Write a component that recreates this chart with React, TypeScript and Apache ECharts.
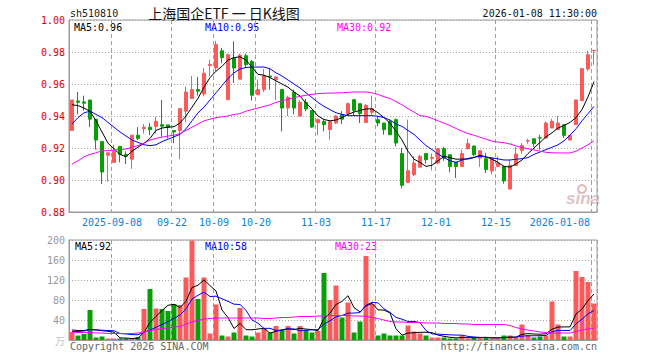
import React, { useEffect, useRef } from 'react';
import * as echarts from 'echarts';

const dates = [
  '2025-08-28','2025-08-29','2025-09-01','2025-09-02','2025-09-03','2025-09-04','2025-09-05','2025-09-08','2025-09-09','2025-09-10',
  '2025-09-11','2025-09-12','2025-09-15','2025-09-16','2025-09-17','2025-09-18','2025-09-19','2025-09-22','2025-09-23','2025-09-24',
  '2025-09-25','2025-09-26','2025-09-29','2025-09-30','2025-10-09','2025-10-10','2025-10-13','2025-10-14','2025-10-15','2025-10-16',
  '2025-10-17','2025-10-20','2025-10-21','2025-10-22','2025-10-23','2025-10-24','2025-10-27','2025-10-28','2025-10-29','2025-10-30',
  '2025-10-31','2025-11-03','2025-11-04','2025-11-05','2025-11-06','2025-11-07','2025-11-10','2025-11-11','2025-11-12','2025-11-13',
  '2025-11-14','2025-11-17','2025-11-18','2025-11-19','2025-11-20','2025-11-21','2025-11-24','2025-11-25','2025-11-26','2025-11-27',
  '2025-11-28','2025-12-01','2025-12-02','2025-12-03','2025-12-04','2025-12-05','2025-12-08','2025-12-09','2025-12-10','2025-12-11',
  '2025-12-12','2025-12-15','2025-12-16','2025-12-17','2025-12-18','2025-12-19','2025-12-22','2025-12-23','2025-12-24','2025-12-25',
  '2025-12-26','2025-12-29','2025-12-30','2025-12-31','2026-01-05','2026-01-06','2026-01-07','2026-01-08'
];

const opens = [
  0.931,0.9494,0.9488,0.950,0.938,0.924,0.9155,0.911,0.921,0.916,
  0.913,0.928,0.932,0.933,0.9335,0.9346,0.9344,0.931,0.931,0.943,
  0.951,0.9565,0.9538,0.9715,0.970,0.9808,0.9502,0.9762,0.963,0.9777,
  0.974,0.9533,0.9565,0.965,0.9627,0.9565,0.945,0.9548,0.940,0.9485,
  0.9435,0.9358,0.9365,0.9315,0.9356,0.9408,0.9415,0.9502,0.9477,0.936,
  0.9423,0.9377,0.9356,0.9367,0.9377,0.9165,0.8985,0.9033,0.908,0.9165,
  0.9135,0.9106,0.9196,0.9158,0.9112,0.9085,0.9196,0.9212,0.9137,0.9133,
  0.9056,0.9085,0.9085,0.8944,0.909,0.9185,0.9243,0.9258,0.9264,0.9262,
  0.9325,0.9315,0.9346,0.925,0.9346,0.9496,0.9694,0.9808
];
const closes = [
  0.950,0.9486,0.948,0.938,0.925,0.905,0.917,0.918,0.916,0.915,
  0.928,0.926,0.933,0.9315,0.9367,0.9336,0.933,0.930,0.9446,0.955,
  0.9565,0.9555,0.9667,0.9723,0.9846,0.9765,0.9783,0.970,0.978,0.972,
  0.953,0.9565,0.9652,0.9644,0.9644,0.945,0.9517,0.945,0.9485,0.9444,
  0.9331,0.9377,0.9346,0.9365,0.940,0.938,0.9477,0.9435,0.9415,0.9467,
  0.9446,0.9356,0.9315,0.9283,0.9231,0.8967,0.9058,0.9106,0.9148,0.9127,
  0.914,0.9196,0.9137,0.9085,0.9085,0.9165,0.9227,0.9158,0.9183,0.9065,
  0.9135,0.9106,0.8994,0.9092,0.9162,0.9215,0.9246,0.9227,0.9262,0.9356,
  0.9367,0.9356,0.9279,0.9279,0.950,0.9696,0.9783,0.981
];
const lows = [
  0.931,0.941,0.9434,0.933,0.919,0.8975,0.899,0.911,0.911,0.910,
  0.907,0.925,0.929,0.928,0.929,0.927,0.926,0.923,0.913,0.936,
  0.9506,0.9527,0.9523,0.9648,0.968,0.973,0.9502,0.9606,0.963,0.970,
  0.9496,0.9533,0.955,0.9565,0.950,0.9304,0.940,0.941,0.9396,0.943,
  0.9325,0.928,0.9304,0.9252,0.935,0.935,0.9408,0.940,0.9356,0.9356,
  0.9408,0.9335,0.9283,0.9283,0.921,0.8948,0.898,0.9025,0.908,0.9102,
  0.906,0.9098,0.912,0.9048,0.9012,0.9085,0.919,0.915,0.9083,0.9044,
  0.9035,0.908,0.8977,0.894,0.909,0.9165,0.9227,0.9206,0.919,0.926,
  0.9325,0.9315,0.9262,0.9246,0.9346,0.9496,0.968,0.972
];
const highs = [
  0.950,0.955,0.9527,0.950,0.938,0.924,0.917,0.922,0.921,0.918,
  0.928,0.933,0.935,0.9356,0.9396,0.950,0.9344,0.931,0.9446,0.9585,
  0.965,0.9645,0.970,0.975,0.987,0.9825,0.979,0.9867,0.979,0.979,
  0.975,0.9627,0.9694,0.970,0.9648,0.9565,0.9527,0.9565,0.950,0.9506,
  0.9435,0.9385,0.938,0.9365,0.9408,0.943,0.9485,0.9502,0.9477,0.9475,
  0.9527,0.940,0.9356,0.9377,0.9385,0.920,0.9377,0.9148,0.9158,0.9165,
  0.9165,0.920,0.9206,0.916,0.9112,0.919,0.9258,0.9216,0.9185,0.917,
  0.914,0.9148,0.9085,0.9127,0.9206,0.9231,0.9258,0.9258,0.9283,0.9367,
  0.9383,0.940,0.9346,0.928,0.9502,0.970,0.9808,0.981
];

const ma5 = [
  0.947,0.9465,0.945,0.943,0.937,0.930,0.923,0.9195,0.916,0.9145,
  0.918,0.9205,0.923,0.926,0.931,0.9325,0.933,0.9333,0.9356,0.940,
  0.9455,0.951,0.958,0.964,0.968,0.971,0.975,0.9765,0.977,0.975,
  0.9705,0.966,0.9655,0.964,0.962,0.960,0.958,0.955,0.9525,0.948,
  0.9445,0.940,0.9378,0.937,0.9375,0.939,0.941,0.9425,0.9435,0.9444,
  0.9445,0.942,0.939,0.9355,0.9305,0.925,0.918,0.913,0.911,0.9085,
  0.9092,0.912,0.9148,0.914,0.913,0.9131,0.9131,0.914,0.9155,0.9145,
  0.913,0.911,0.9085,0.9081,0.910,0.9125,0.9165,0.920,0.9235,0.927,
  0.9295,0.9325,0.934,0.936,0.939,0.944,0.952,0.9614
];
const ma10 = [
  0.935,0.939,0.942,0.943,0.941,0.939,0.936,0.933,0.930,0.9275,
  0.925,0.9235,0.922,0.9215,0.922,0.924,0.9255,0.927,0.9285,0.932,
  0.937,0.942,0.9455,0.950,0.9545,0.959,0.9635,0.967,0.9694,0.9703,
  0.9706,0.9706,0.9706,0.9695,0.967,0.965,0.9625,0.960,0.9575,0.9545,
  0.9515,0.9485,0.946,0.944,0.942,0.941,0.9402,0.9402,0.9402,0.9402,
  0.9402,0.9398,0.939,0.9375,0.935,0.9335,0.931,0.9285,0.925,0.9215,
  0.919,0.9163,0.914,0.912,0.911,0.9125,0.9135,0.9142,0.9148,0.9144,
  0.9138,0.9132,0.9125,0.9125,0.913,0.9133,0.914,0.916,0.9175,0.919,
  0.9205,0.922,0.9245,0.928,0.932,0.937,0.9415,0.946
];
const ma30 = [
  0.910,0.912,0.9145,0.916,0.917,0.9182,0.9184,0.9187,0.919,0.9194,
  0.9205,0.9215,0.923,0.925,0.926,0.9268,0.9275,0.928,0.929,0.931,
  0.933,0.935,0.937,0.938,0.939,0.9395,0.940,0.941,0.9415,0.943,
  0.944,0.945,0.946,0.947,0.9485,0.9495,0.9505,0.9515,0.9523,0.953,
  0.9535,0.954,0.9542,0.9543,0.9544,0.9545,0.9548,0.955,0.955,0.955,
  0.9545,0.9535,0.952,0.951,0.949,0.947,0.9445,0.9425,0.9402,0.9398,
  0.9385,0.937,0.9355,0.934,0.9322,0.9305,0.929,0.928,0.9267,0.9255,
  0.9243,0.9237,0.9233,0.9225,0.9213,0.9203,0.9195,0.9188,0.918,0.9173,
  0.917,0.9169,0.9169,0.9169,0.918,0.920,0.922,0.9245
];

const volumes = [
  16,9,12,60,5,7,3,3,3,3,
  3,6,62,102,63,62,58,72,70,125,
  199,82,125,13,71,9,7,15,64,9,
  7,15,22,15,28,20,28,13,28,20,
  15,18,134,80,109,45,75,15,37,168,
  72,9,13,9,9,9,29,17,13,9,
  5,5,5,3,3,9,3,5,5,5,
  3,3,9,9,5,31,10,5,7,9,
  77,31,7,7,138,126,116,73
];
const volMa5 = [
  20,19,19,21,20.4,18.6,17.4,15.6,4.2,3.8,
  3,3.6,15.4,35.2,47.2,59,69.4,71.4,65,77.4,
  104.8,109.6,120.2,108.8,98,60,45,23,33.2,20.8,
  20.4,22,23.4,13.6,17.4,20,22.6,20.8,23.4,21.8,
  20.8,18.8,43,53.4,71.2,77.2,88.6,64.8,56.2,68,
  73.4,60.2,59.8,54.2,22.4,9.8,13.8,14.6,15.4,15.4,
  14.6,9.8,7.4,5.4,4.2,5,4.6,4.6,5,5.4,
  4.2,4.2,5,5.8,5.8,11.4,12.8,12,11.6,12.4,
  21.6,25.8,26.2,26.2,52,61.8,78.8,92
];
const volMa10 = [
  17,17,18,21,20,19.5,19,18.5,13,12.1,
  10.8,10.5,15.5,19.7,25.5,31,36.5,43.4,50.1,62.3,
  81.9,89.5,95.8,86.9,87.7,82.4,77.3,71.6,71,59.4,
  40.2,33.5,23.2,23.4,19.1,20.2,22.3,22.1,18.5,19.6,
  20.4,20.7,31.9,38.4,46.5,49,53.7,53.9,54.8,69.6,
  75.3,74.4,62.3,55.2,45.2,41.6,37,37.2,34.8,18.9,
  12.2,11.8,11,10.4,9.8,9.8,7.2,6,5.2,4.8,
  4.6,4.4,4.8,5.4,5.6,7.8,8.5,8.5,8.7,9.1,
  16.5,19.3,19.1,18.9,32.2,41.7,52.3,59.1
];
const volMa30 = [
  16,15,15,15,14,14,13,13,13,13,
  13,14,16,19,21,23,24,26,27,32,
  36,39,42,43,44,44,44,44,44,44,
  44,44,43,43,44,45,45,46,47,47,
  47,48,48,49,49,49,49,48,48,47,
  45,43,40,37,36,36,35,35,35,34,
  34,34,33,33,33,32,32,31,31,31,
  31,31,31,29,25,22,20,18,16,15,
  14,14,14,14,17,20,22,23
];

const labelIndices = [7, 17, 24, 31, 41, 51, 61, 71, 87];
const fullLabelIndices = [7, 87];

const RED = '#fa5a5a';
const GREEN = '#06a006';
const MONO = '"DejaVu Sans Mono", monospace';

export default function App() {
  const ref = useRef<HTMLDivElement>(null);
  useEffect(() => {
    if (!ref.current) return;
    const chart = echarts.init(ref.current, null, { renderer: 'svg', width: 660, height: 360 });
    const showIdx = (i: number) => labelIndices.indexOf(i) >= 0;
    const candleData = dates.map((_, i) => [opens[i], closes[i], lows[i], highs[i]]);
    const volData = volumes.map((v, i) => ({
      value: v,
      itemStyle: { color: closes[i] >= opens[i] ? RED : GREEN },
    }));
    const splitX = {
      show: true,
      interval: (i: number) => showIdx(i),
      lineStyle: { color: '#a0a0a0', type: [4, 3], width: 1 },
    };
    const splitY = { show: true, lineStyle: { color: '#a8a8a8', type: [1, 2], width: 1 } };
    const txt = (x: number, y: number, text: string, fill: string, extra: any = {}) => ({
      type: 'text',
      x,
      y,
      silent: true,
      style: {
        text,
        fill,
        fontFamily: MONO,
        fontSize: 10,
        verticalAlign: 'middle',
        align: 'left',
        ...extra,
      },
    });
    const line = (data: number[], color: string, xi: number) => ({
      type: 'line',
      xAxisIndex: xi,
      yAxisIndex: xi,
      data,
      symbol: 'none',
      showSymbol: false,
      silent: true,
      lineStyle: { width: 1, color },
      itemStyle: { color },
      z: 5,
    });
    const option: any = {
      animation: false,
      backgroundColor: '#ffffff',
      grid: [
        { left: 69, top: 20, width: 528, height: 192, show: true, borderColor: '#9a9a9a', borderWidth: 1 },
        { left: 69, top: 240, width: 528, height: 100, show: true, borderColor: '#9a9a9a', borderWidth: 1 },
      ],
      xAxis: [
        {
          type: 'category',
          gridIndex: 0,
          data: dates,
          boundaryGap: true,
          axisLine: { show: true, lineStyle: { color: '#9a9a9a' } },
          axisTick: { show: false },
          axisLabel: {
            interval: (i: number) => showIdx(i),
            formatter: (v: string, i: number) => (fullLabelIndices.indexOf(i) >= 0 ? v : v.slice(5)),
            color: '#0a82d6',
            fontFamily: MONO,
            fontSize: 10,
            margin: 5,
            padding: [0, 4, 0, 0],
            alignMaxLabel: 'right',
          },
          splitLine: splitX,
        },
        {
          type: 'category',
          gridIndex: 1,
          data: dates,
          boundaryGap: true,
          axisLine: { show: true, lineStyle: { color: '#9a9a9a' } },
          axisTick: { show: false },
          axisLabel: { show: false },
          splitLine: splitX,
        },
      ],
      yAxis: [
        {
          type: 'value',
          gridIndex: 0,
          min: 0.88,
          max: 1.0,
          interval: 0.02,
          axisLine: { show: true, lineStyle: { color: '#9a9a9a' } },
          axisTick: { show: false },
          axisLabel: {
            formatter: (v: number) => v.toFixed(2),
            color: '#e00000',
            fontFamily: MONO,
            fontSize: 10,
            margin: 4,
          },
          splitLine: splitY,
        },
        {
          type: 'value',
          gridIndex: 1,
          min: 0,
          max: 200,
          interval: 40,
          axisLine: { show: true, lineStyle: { color: '#9a9a9a' } },
          axisTick: { show: false },
          axisLabel: {
            formatter: (v: number) => (v === 0 ? '{u|万}' : String(v)),
            color: '#9a9a9a',
            fontFamily: MONO,
            fontSize: 10,
            margin: 4,
            rich: { u: { color: '#c4c4c4', fontFamily: '"Noto Sans CJK SC"', fontSize: 10 } },
          },
          splitLine: splitY,
        },
      ],
      series: [
        {
          type: 'candlestick',
          xAxisIndex: 0,
          yAxisIndex: 0,
          data: candleData,
          barWidth: 4,
          silent: true,
          itemStyle: { color: RED, color0: GREEN, borderColor: RED, borderColor0: GREEN, borderWidth: 1 },
        },
        line(ma5, '#000000', 0),
        line(ma10, '#0000ff', 0),
        line(ma30, '#ff00ff', 0),
        {
          type: 'bar',
          xAxisIndex: 1,
          yAxisIndex: 1,
          data: volData,
          barWidth: 5,
          silent: true,
        },
        line(volMa5, '#000000', 1),
        line(volMa10, '#0000ff', 1),
        line(volMa30, '#ff00ff', 1),
      ],
      graphic: [
        txt(70, 13, 'sh510810', '#222'),
        {
          type: 'text',
          x: 224,
          y: 13,
          silent: true,
          style: {
            text: '上海国企ETF 一 日K线图',
            fill: '#111',
            fontFamily: '"Noto Sans CJK SC"',
            fontSize: 14,
            align: 'center',
            verticalAlign: 'middle',
          },
        },
        txt(597, 13, '2026-01-08 11:30:00', '#111', { align: 'right' }),
        txt(74, 27, 'MA5:0.96', '#000'),
        txt(205, 27, 'MA10:0.95', '#0000ff'),
        txt(337, 27, 'MA30:0.92', '#ff00ff'),
        txt(75, 246, 'MA5:92', '#000'),
        txt(205, 246, 'MA10:58', '#0000ff'),
        txt(335, 246, 'MA30:23', '#ff00ff'),
        txt(70, 346, 'Copyright 2026 SINA.COM', '#666'),
        txt(597, 346, 'http://finance.sina.com.cn', '#666', { align: 'right' }),
        {
          type: 'circle',
          silent: true,
          shape: { cx: 582, cy: 189, r: 4 },
          style: { fill: 'none', stroke: '#e6b8b8', lineWidth: 2 },
        },
        {
          type: 'text',
          x: 566,
          y: 198,
          silent: true,
          style: {
            text: 'sina',
            fill: '#dcc4c4',
            fontFamily: 'Arial, "Liberation Sans", sans-serif',
            fontSize: 17,
            fontWeight: 'bold',
            fontStyle: 'italic',
            verticalAlign: 'middle',
            align: 'left',
          },
        },
      ],
    };
    chart.setOption(option);
    return () => chart.dispose();
  }, []);
  return <div ref={ref} style={{ position: 'absolute', left: 0, top: 0, width: 660, height: 360 }} />;
}
